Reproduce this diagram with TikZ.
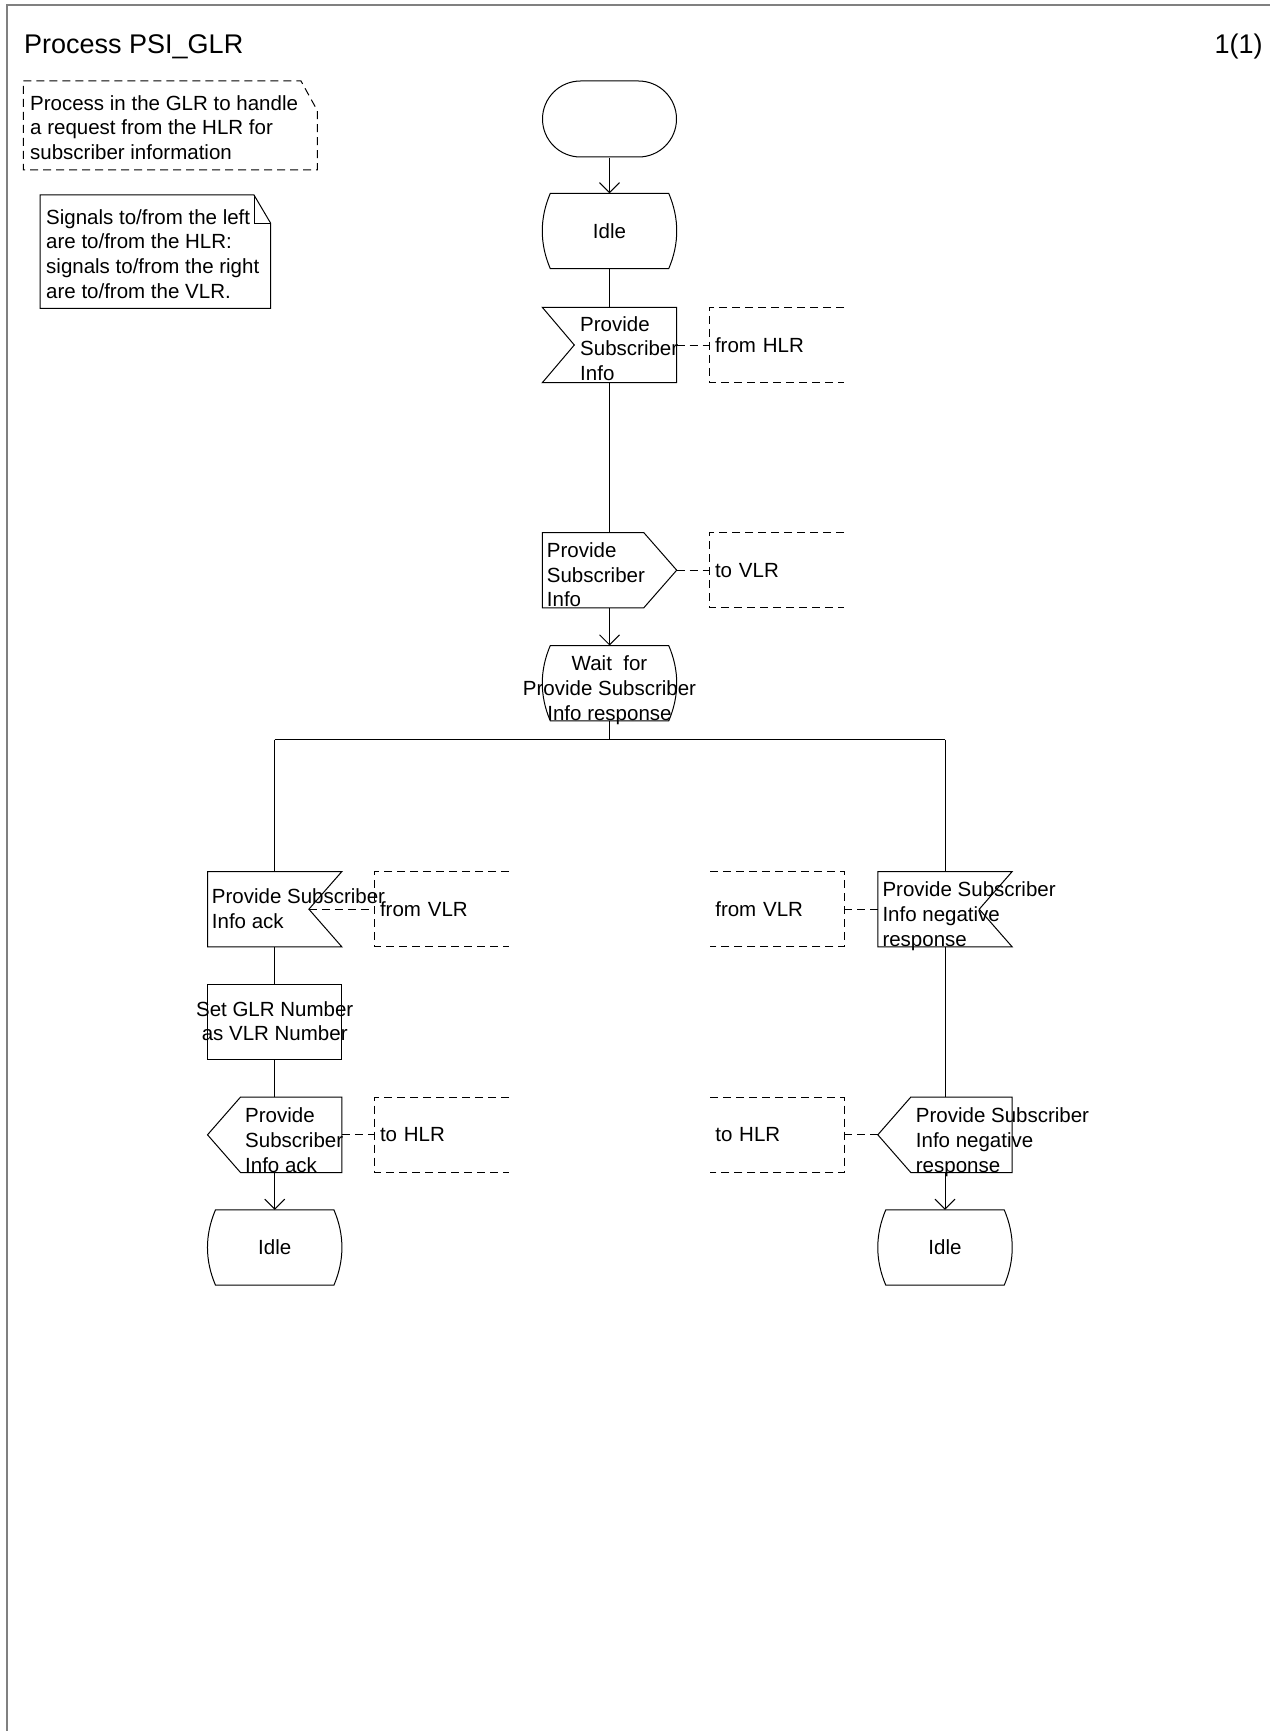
\documentclass[tikz,border=0pt]{standalone}
\usepackage{fontspec}
\setmainfont{Liberation Sans}
\usetikzlibrary{arrows.meta, shapes.misc, positioning}

\newcommand\sdlfont{\fontsize{20.5}{24.7}\selectfont}
\newcommand\headfont{\fontsize{27}{30}\selectfont}

\tikzset{
    flow/.style={line width=1pt, draw=black},
    flowarr/.style={flow, -{Straight Barb[length=10pt, width=20pt]}},
    dashline/.style={line width=1pt, draw=black, dash pattern=on 8pt off 5pt},
    sdlbox/.style={minimum width=134pt, minimum height=75pt, inner sep=0pt, font=\sdlfont},
    taskbox/.style={sdlbox, flow},
    startbox/.style={rounded rectangle, minimum width=134pt, minimum height=76pt, inner sep=0pt, flow},
    commentbox/.style={sdlbox, inner xsep=5pt, text width=124pt, align=left},
    sdltext/.style={inner sep=0pt, font=\sdlfont, align=left, anchor=base west},
}

% outlines of the SDL symbols, drawn round a named node
\newcommand\sdlstate[1]{%
  \draw[flow] ([xshift=8pt]#1.north west) -- ([xshift=-8pt]#1.north east)
    .. controls ([xshift=2.7pt,yshift=-25pt]#1.north east) and ([xshift=2.7pt,yshift=25pt]#1.south east) .. ([xshift=-8pt]#1.south east)
    -- ([xshift=8pt]#1.south west)
    .. controls ([xshift=-2.7pt,yshift=25pt]#1.south west) and ([xshift=-2.7pt,yshift=-25pt]#1.north west) .. ([xshift=8pt]#1.north west) -- cycle;}
\newcommand\sdlinL[1]{%
  \draw[flow] (#1.north west) -- (#1.north east) -- (#1.south east) -- (#1.south west) -- ([xshift=32pt]#1.west) -- cycle;}
\newcommand\sdlinR[1]{%
  \draw[flow] (#1.north west) -- (#1.north east) -- ([xshift=-33pt]#1.east) -- (#1.south east) -- (#1.south west) -- cycle;}
\newcommand\sdloutR[1]{%
  \draw[flow] (#1.north west) -- ([xshift=-33pt]#1.north east) -- (#1.east) -- ([xshift=-33pt]#1.south east) -- (#1.south west) -- cycle;}
\newcommand\sdloutL[1]{%
  \draw[flow] ([xshift=33pt]#1.north west) -- (#1.north east) -- (#1.south east) -- ([xshift=33pt]#1.south west) -- (#1.west) -- cycle;}
\newcommand\sdlopenR[1]{%
  \draw[dashline] (#1.north east) -- (#1.north west) -- (#1.south west) -- (#1.south east);}
\newcommand\sdlopenL[1]{%
  \draw[dashline] (#1.north west) -- (#1.north east) -- (#1.south east) -- (#1.south west);}

\begin{document}
\begin{tikzpicture}[x=1pt, y=-1pt]
    \useasboundingbox (0,0) rectangle (1270,1731);
    \draw[gray, line width=2pt] (7,1731) -- (7,5.5) -- (1270,5.5);
    \node[anchor=base west, inner sep=0pt, font=\headfont] (title) at (24,53.3) {Process PSI\_GLR};
    \node[anchor=base east, inner sep=0pt, font=\headfont] (page) at (1262.7,53.3) {1(1)};

    % notes (text nodes sit on the baseline of their last line)
    \draw[dashline] (23.3,81) -- (301,81) -- (317.3,110.5) -- (317.3,170) -- (23.3,170) -- cycle;
    \node[sdltext] (n1) at (30,159.4) {Process in the GLR to handle\\a request from the HLR for\\subscriber information};
    \draw[flow] (40,195) -- (254,195) -- (270.7,223.3) -- (270.7,308.3) -- (40,308.3) -- cycle;
    \draw[flow] (254,195) -- (254,223.3) -- (270.7,223.3);
    \node[sdltext] (n2) at (46,298.3) {Signals to/from the left\\are to/from the HLR:\\signals to/from the right\\are to/from the VLR.};

    % main column
    \node[startbox] (s0) at (609.5,119) {};
    \node[sdlbox] (s1) at (609.5,231) {Idle};
    \node[sdlbox] (i1) at (609.5,345) {};
    \node[sdlbox] (o1) at (609.5,570.2) {};
    \node[sdlbox] (w1) at (609.5,683.2) {};
    \sdlstate{s1}
    \sdlinL{i1}
    \sdloutR{o1}
    \sdlstate{w1}
    \coordinate (bL) at (274.7,739.5);
    \coordinate (bR) at (945,739.5);

    % left branch
    \node[sdlbox] (i2) at (274.7,909.2) {};
    \node[taskbox] (t1) at (274.7,1021.8) {};
    \node[sdlbox] (o2) at (274.7,1134.8) {};
    \node[sdlbox] (s2) at (274.7,1247.5) {Idle};
    \sdlinR{i2}
    \sdloutL{o2}
    \sdlstate{s2}

    % right branch
    \node[sdlbox] (i3) at (945,909.2) {};
    \node[sdlbox] (o3) at (945,1134.8) {};
    \node[sdlbox] (s3) at (945,1247.5) {Idle};
    \sdlinR{i3}
    \sdloutL{o3}
    \sdlstate{s3}

    % comments
    \node[commentbox] (c1) at (777,345) {from HLR};
    \node[commentbox] (c2) at (777,570.2) {to VLR};
    \node[commentbox] (c3) at (442,909.2) {from VLR};
    \node[commentbox] (c4) at (442,1134.8) {to HLR};
    \node[commentbox] (c5) at (777.3,909.2) {from VLR};
    \node[commentbox] (c6) at (777.3,1134.8) {to HLR};
    \sdlopenR{c1}
    \sdlopenR{c2}
    \sdlopenR{c3}
    \sdlopenR{c4}
    \sdlopenL{c5}
    \sdlopenL{c6}

    % texts
    \node[sdltext] (i1t) at (580,380.4) {Provide\\Subscriber\\Info};
    \node[sdltext] (o1t) at (546.7,606.7) {Provide\\Subscriber\\Info};
    \node[sdltext, align=center, anchor=base] (w1t) at (609.5,720.1) {Wait~~for\\Provide Subscriber\\Info response};
    \node[sdltext] (i2t) at (211.7,928) {Provide Subscriber\\Info ack};
    \node[sdltext, align=center, anchor=base] (t1t) at (274.7,1040.7) {Set GLR Number\\as VLR Number};
    \node[sdltext] (o2t) at (245,1172.1) {Provide\\Subscriber\\Info ack};
    \node[sdltext] (i3t) at (882.3,946.1) {Provide Subscriber\\Info negative\\response};
    \node[sdltext] (o3t) at (915.7,1172.1) {Provide Subscriber\\Info negative\\response};

    % flow lines
    \draw[flowarr] (s0) -- (s1);
    \draw[flow] (s1) -- (i1);
    \draw[flow] (i1) -- (o1);
    \draw[flowarr] (o1) -- (w1);
    \draw[flow] (w1.south) -- (w1.south |- bL);
    \draw[flow] (bL) -- (bR);
    \draw[flow] (bL) -- (i2.north);
    \draw[flow] (i2) -- (t1);
    \draw[flow] (t1) -- (o2);
    \draw[flowarr] (o2) -- (s2);
    \draw[flow] (bR) -- (i3.north);
    \draw[flow] (i3) -- (o3);
    \draw[flowarr] (o3) -- (s3);

    \draw[dashline] (i1.east) -- (c1.west);
    \draw[dashline] (o1.east) -- (c2.west);
    \draw[dashline] ([xshift=-33pt]i2.east) -- (c3.west);
    \draw[dashline] (o2.east) -- (c4.west);
    \draw[dashline] (i3.west) -- (c5.east);
    \draw[dashline] (o3.west) -- (c6.east);
\end{tikzpicture}
\end{document}
